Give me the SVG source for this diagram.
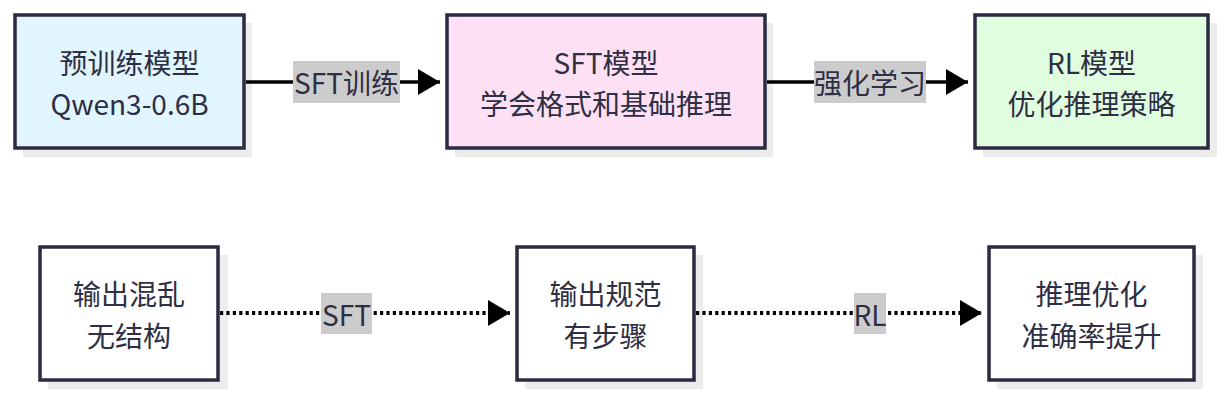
<svg xmlns="http://www.w3.org/2000/svg" width="1224" height="396" viewBox="0 0 1224 396">
<defs>
<marker id="ah" markerUnits="userSpaceOnUse" markerWidth="22" markerHeight="26" refX="22" refY="13" orient="auto">
<path d="M0,0 L22,13 L0,26 Z" fill="#000"/>
</marker>
</defs>
<style>
.sh{fill:#ececec}
.box{stroke:#2a2a40;stroke-width:3.5}
.t{font-family:"Noto Sans CJK SC","Noto Sans",sans-serif;font-size:28px;fill:#2e2e44;text-anchor:middle;dominant-baseline:central}
.lb{fill:#cccccc}
.e{fill:none;stroke:#000;stroke-width:3.5}
.d{stroke-width:4;stroke-dasharray:3.2 3.2}
</style>
<rect width="1224" height="396" fill="#fff"/>
<g id="n1">
<rect class="sh" x="23" y="23" width="229" height="134"/>
<rect class="box" x="15" y="15" width="229" height="133" fill="#e1f5fe"/>
<text class="t" x="129.5" y="62">预训练模型</text>
<text class="t" x="129.5" y="103">Qwen3-0.6B</text>
</g>
<g id="n2">
<rect class="sh" x="455" y="23" width="318" height="134"/>
<rect class="box" x="447" y="15" width="318" height="133" fill="#fde0f3"/>
<text class="t" x="606" y="62">SFT模型</text>
<text class="t" x="606" y="103">学会格式和基础推理</text>
</g>
<g id="n3">
<rect class="sh" x="983" y="23" width="234" height="134"/>
<rect class="box" x="975" y="15" width="233" height="133" fill="#e0fde0"/>
<text class="t" x="1091.5" y="62">RL模型</text>
<text class="t" x="1091.5" y="103">优化推理策略</text>
</g>
<g id="n4">
<rect class="sh" x="48" y="255" width="180" height="134"/>
<rect class="box" x="40" y="247" width="178" height="133" fill="#fff"/>
<text class="t" x="129" y="293">输出混乱</text>
<text class="t" x="129" y="335">无结构</text>
</g>
<g id="n5">
<rect class="sh" x="525" y="255" width="178" height="134"/>
<rect class="box" x="517" y="247" width="177" height="133" fill="#fff"/>
<text class="t" x="605.5" y="293">输出规范</text>
<text class="t" x="605.5" y="335">有步骤</text>
</g>
<g id="n6">
<rect class="sh" x="997" y="255" width="206" height="134"/>
<rect class="box" x="989" y="247" width="205" height="133" fill="#fff"/>
<text class="t" x="1091.5" y="293">推理优化</text>
<text class="t" x="1091.5" y="335">准确率提升</text>
</g>
<g id="connectors">
<line class="e" x1="246" y1="82" x2="440" y2="82" marker-end="url(#ah)"/>
<rect class="lb" x="293" y="61" width="107" height="42"/>
<text class="t" x="346.5" y="82">SFT训练</text>
<line class="e" x1="767" y1="82" x2="968" y2="82" marker-end="url(#ah)"/>
<rect class="lb" x="814" y="61" width="112" height="42"/>
<text class="t" x="870" y="82">强化学习</text>
<line class="e d" x1="220" y1="313" x2="510" y2="313" marker-end="url(#ah)"/>
<rect class="lb" x="321" y="293" width="51" height="41"/>
<text class="t" x="346.5" y="313.5">SFT</text>
<line class="e d" x1="696" y1="313" x2="982" y2="313" marker-end="url(#ah)"/>
<rect class="lb" x="854" y="293" width="32" height="41"/>
<text class="t" x="870" y="313.5">RL</text>
</g>
</svg>
